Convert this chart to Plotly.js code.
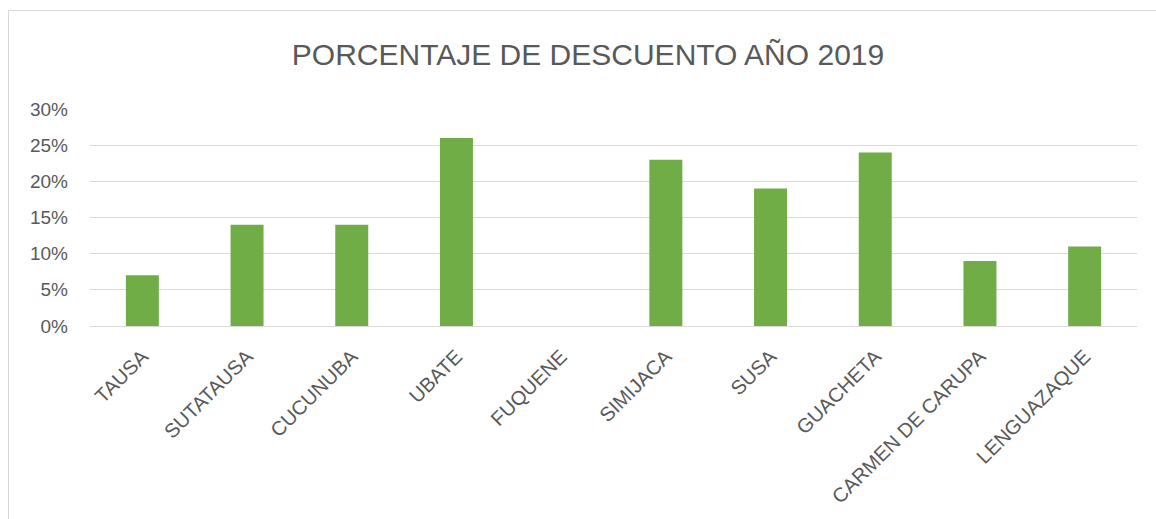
<!DOCTYPE html>
<html>
<head>
<meta charset="utf-8">
<script src="https://cdn.plot.ly/plotly-3.0.1.min.js"></script>
<style>html,body{margin:0;padding:0;background:#fff;overflow:hidden}#chart{width:1156px;height:519px}</style>
</head>
<body>
<div id="chart"></div>
<script>
const categories = ["TAUSA","SUTATAUSA","CUCUNUBA","UBATE","FUQUENE","SIMIJACA","SUSA","GUACHETA","CARMEN DE CARUPA","LENGUAZAQUE"];
const descuento = [0.07,0.14,0.14,0.26,0,0.23,0.19,0.24,0.09,0.11];
const yTicks = [0,0.05,0.10,0.15,0.20,0.25,0.30];

const txt = '#595959';
const fontFam = '"Liberation Sans", Arial, sans-serif';

const trace = {
  type: 'bar',
  x: categories,
  y: descuento,
  marker: {color: '#70AD47'},
  hoverinfo: 'x+y'
};

const W = 1047, H = 217, L = 90, B = 193;
function px2x(p){ return (p - L) / W; }
function py2y(p){ return (519 - B - p) / H; }

const layout = {
  width: 1156, height: 519,
  margin: {l: L, r: 19, t: 109, b: B},
  paper_bgcolor: '#fff', plot_bgcolor: '#fff',
  showlegend: false,
  bargap: 0.685,
  title: {
    text: 'PORCENTAJE DE DESCUENTO AÑO 2019',
    font: {family: fontFam, size: 30, color: txt},
    xref: 'container', x: 588/1156, xanchor: 'center',
    yref: 'container', y: 1 - 54/519, yanchor: 'middle'
  },
  xaxis: {
    tickangle: -45,
    tickfont: {family: fontFam, size: 20, color: txt},
    showgrid: false, showline: false, ticks: '', zeroline: false,
    ticklabelstandoff: 14,
    fixedrange: true
  },
  yaxis: {
    range: [0, 0.30],
    tickvals: yTicks,
    tickformat: '.0%',
    tickfont: {family: fontFam, size: 19, color: txt},
    showgrid: true, gridcolor: '#d9d9d9', gridwidth: 1,
    zeroline: true, zerolinecolor: '#d9d9d9', zerolinewidth: 1,
    showline: false, ticks: '',
    ticklabelstandoff: 21,
    fixedrange: true
  },
  shapes: [{
    type: 'rect', xref: 'paper', yref: 'paper',
    x0: px2x(8.5), x1: px2x(1200), y0: py2y(560), y1: py2y(10.5),
    line: {color: '#d9d9d9', width: 1}, fillcolor: 'rgba(0,0,0,0)',
    layer: 'below'
  }]
};

Plotly.newPlot('chart', [trace], layout, {displayModeBar: false, staticPlot: true});
</script>
</body>
</html>
